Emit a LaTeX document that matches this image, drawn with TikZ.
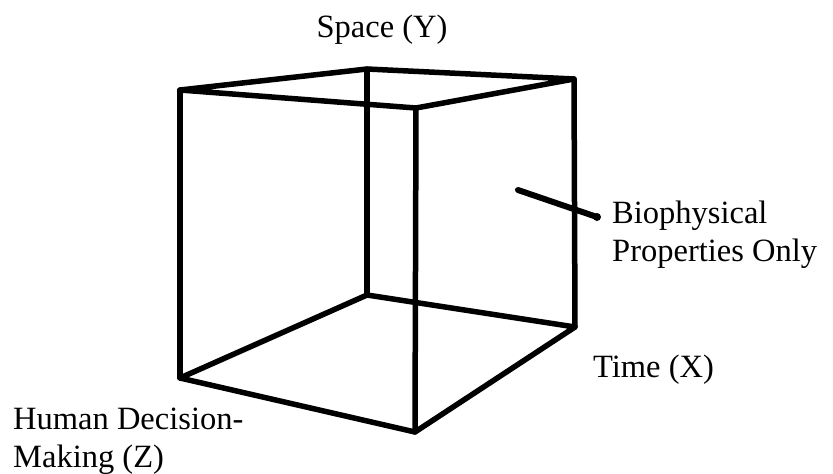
\documentclass[tikz,border=0pt]{standalone}
\usepackage{fontspec}
\setmainfont{Liberation Serif}
\usetikzlibrary{positioning}

\begin{document}
\begin{tikzpicture}[
  x=1pt, y=-1pt,
  every node/.style={font=\fontsize{32.5}{38}\selectfont, inner sep=0pt},
  axislabel/.style={align=left, anchor=base west},
  cubeedge/.style={line width=5.5pt, line join=round, line cap=round, draw=black},
  pointer/.style={line width=6pt, line cap=round, draw=black}
]
  \useasboundingbox (0,0) rectangle (833,474);

  % corners of the cube
  \coordinate (tl) at (180,90);
  \coordinate (tb) at (367,69);
  \coordinate (tr) at (574,79);
  \coordinate (tf) at (416,108);
  \coordinate (bl) at (180,378);
  \coordinate (bb) at (367,295);
  \coordinate (br) at (575,327);
  \coordinate (bf) at (415,432);

  \draw[cubeedge] (tl) -- (tb) -- (tr) -- (tf) -- cycle;
  \draw[cubeedge] (bl) -- (bb) -- (br) -- (bf) -- cycle;
  \draw[cubeedge] (tl) -- (bl);
  \draw[cubeedge] (tb) -- (bb);
  \draw[cubeedge] (tr) -- (br);
  \draw[cubeedge] (tf) -- (bf);

  % labels (base = last line)
  \node[anchor=base] (space) at (382,37) {Space (Y)};
  \node[axislabel] (time) at (593,377) {Time (X)};
  \node[axislabel] (bio) at (612,261) {Biophysical\\Properties Only};
  \node[axislabel] (human) at (13,467) {Human Decision-\\Making (Z)};

  \coordinate (face) at (518,190);
  \coordinate (dot) at ([shift={(-15,-44)}]bio.base west);
  \draw[pointer] (face) -- (dot);
  \fill (dot) circle (4pt);
\end{tikzpicture}
\end{document}
